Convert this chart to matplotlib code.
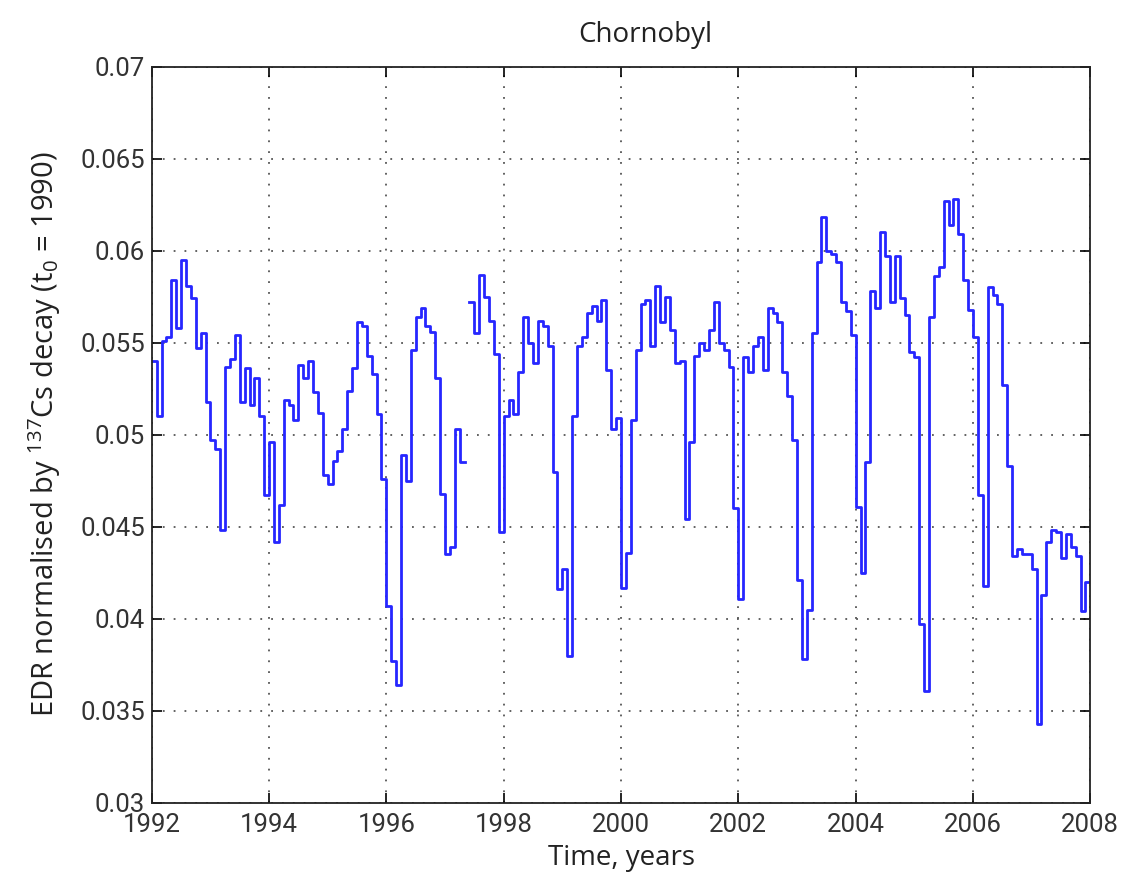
"""
Chornobyl: EDR normalised by 137Cs decay, monthly step series 1992-2008.
"""

import numpy as np
import matplotlib
matplotlib.use("Agg")
import matplotlib.pyplot as plt

plt.rcParams['mathtext.default'] = 'regular'

# monthly values, one list per year (NaN = no data)
edr_1992 = [0.0540, 0.0510, 0.0551, 0.0553, 0.0584, 0.0558, 0.0595, 0.0581, 0.0574, 0.0547, 0.0555, 0.0518]
edr_1993 = [0.0497, 0.0492, 0.0448, 0.0537, 0.0541, 0.0554, 0.0518, 0.0536, 0.0516, 0.0531, 0.0510, 0.0467]
edr_1994 = [0.0496, 0.0442, 0.0462, 0.0519, 0.0516, 0.0508, 0.0538, 0.0531, 0.0540, 0.0523, 0.0512, 0.0478]
edr_1995 = [0.0473, 0.0486, 0.0491, 0.0503, 0.0524, 0.0536, 0.0561, 0.0559, 0.0543, 0.0533, 0.0511, 0.0476]
edr_1996 = [0.0407, 0.0377, 0.0364, 0.0489, 0.0475, 0.0546, 0.0564, 0.0569, 0.0559, 0.0556, 0.0531, 0.0468]
edr_1997 = [0.0435, 0.0439, 0.0503, 0.0485, np.nan, 0.0572, 0.0555, 0.0587, 0.0575, 0.0562, 0.0544, 0.0447]
edr_1998 = [0.0510, 0.0519, 0.0511, 0.0534, 0.0564, 0.0550, 0.0539, 0.0562, 0.0559, 0.0548, 0.0480, 0.0416]
edr_1999 = [0.0427, 0.0380, 0.0510, 0.0548, 0.0553, 0.0566, 0.0570, 0.0562, 0.0573, 0.0535, 0.0503, 0.0509]
edr_2000 = [0.0417, 0.0436, 0.0508, 0.0546, 0.0571, 0.0573, 0.0548, 0.0581, 0.0561, 0.0575, 0.0557, 0.0539]
edr_2001 = [0.0540, 0.0454, 0.0496, 0.0543, 0.0550, 0.0546, 0.0557, 0.0572, 0.0550, 0.0546, 0.0537, 0.0460]
edr_2002 = [0.0411, 0.0542, 0.0534, 0.0548, 0.0553, 0.0535, 0.0569, 0.0566, 0.0561, 0.0534, 0.0521, 0.0497]
edr_2003 = [0.0421, 0.0378, 0.0405, 0.0555, 0.0594, 0.0618, 0.0600, 0.0598, 0.0594, 0.0572, 0.0567, 0.0554]
edr_2004 = [0.0461, 0.0425, 0.0485, 0.0578, 0.0569, 0.0610, 0.0597, 0.0572, 0.0597, 0.0574, 0.0565, 0.0545]
edr_2005 = [0.0542, 0.0397, 0.0361, 0.0564, 0.0586, 0.0591, 0.0627, 0.0614, 0.0628, 0.0609, 0.0584, 0.0568]
edr_2006 = [0.0553, 0.0467, 0.0418, 0.0580, 0.0576, 0.0571, 0.0527, 0.0483, 0.0434, 0.0438, 0.0435, 0.0435]
edr_2007 = [0.0427, 0.0343, 0.0413, 0.0442, 0.0448, 0.0447, 0.0433, 0.0446, 0.0439, 0.0434, 0.0404, 0.0420]

start_year = 1992
end_year = 2008
x_ticks = [1992, 1994, 1996, 1998, 2000, 2002, 2004, 2006, 2008]
y_ticks = [0.03, 0.035, 0.04, 0.045, 0.05, 0.055, 0.06, 0.065, 0.07]
y_labels = ['0.03', '0.035', '0.04', '0.045', '0.05', '0.055', '0.06', '0.065', '0.07']

values = np.array(edr_1992 + edr_1993 + edr_1994 + edr_1995 + edr_1996 + edr_1997
                  + edr_1998 + edr_1999 + edr_2000 + edr_2001 + edr_2002 + edr_2003
                  + edr_2004 + edr_2005 + edr_2006 + edr_2007)
edges = start_year + np.arange(len(values) + 1) / 12.0
# repeat last value so the final month is drawn up to the edge
y_step = np.append(values, values[-1])

fig = plt.figure(figsize=(11.24, 8.82), dpi=100)
ax = fig.add_axes([0.135, 0.0896, 0.835, 0.835])

ax.step(edges, y_step, where='post', color='#2626ff', linewidth=2.0)

ax.set_xlim(start_year, end_year)
ax.set_ylim(0.03, 0.07)
ax.set_xticks(x_ticks)
ax.set_yticks(y_ticks)
ax.set_yticklabels(y_labels)

tick_font = ['Roboto', 'DejaVu Sans']
for lab in ax.get_xticklabels() + ax.get_yticklabels():
    lab.set_family(tick_font)
    lab.set_fontsize(18.5)
    lab.set_color('#333333')

ax.tick_params(direction='in', top=True, right=True, length=7, width=1.2)
ax.tick_params(axis='x', pad=7)
ax.tick_params(axis='y', pad=5)
ax.grid(True, linestyle=(0, (1, 5)), color='#555555', linewidth=1.3)
for sp in ax.spines.values():
    sp.set_linewidth(1.3)
    sp.set_color('#222222')

label_font = ['Open Sans', 'DejaVu Sans']
ax.set_title('Chornobyl', fontsize=20, color='#222222', pad=18, x=0.526,
             family=label_font)
ax.set_xlabel('Time, years', fontsize=20, color='#222222', labelpad=5,
              family=label_font)
ax.set_ylabel('EDR normalised by $^{137}$Cs decay (t$_0$ = 1990)', fontsize=21,
              color='#222222', labelpad=12, family=label_font)

fig.savefig('out.png', dpi=100)
